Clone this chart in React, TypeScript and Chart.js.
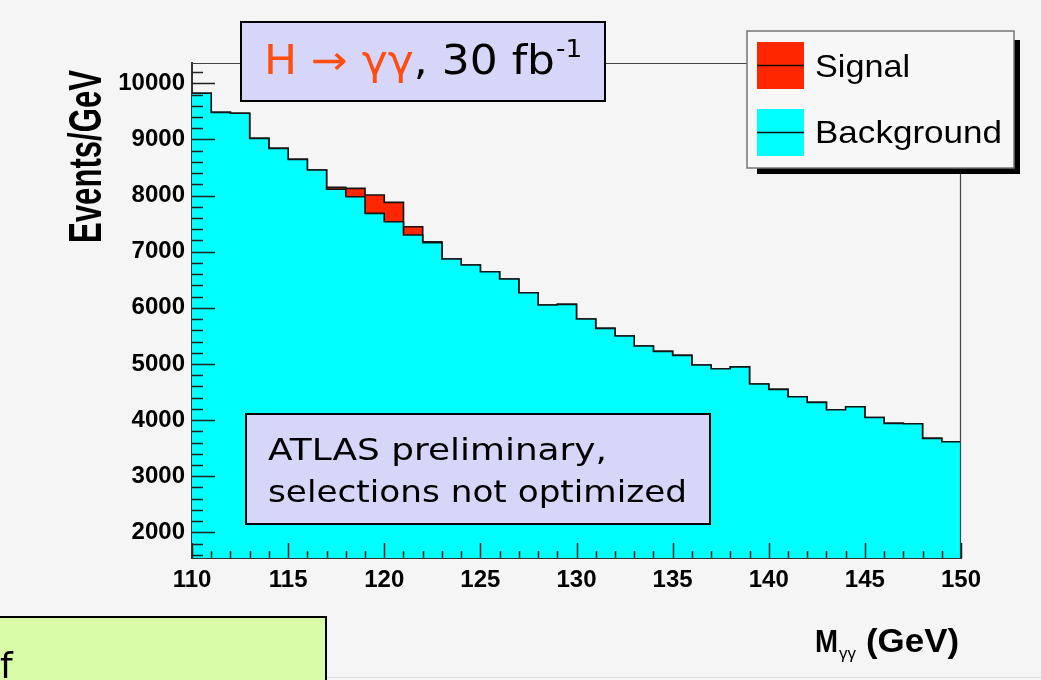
import React, { useEffect, useRef } from "react";
import { Chart, registerables } from "chart.js";

Chart.register(...registerables);

// ---- data ----
const binLow = [
  110, 111, 112, 113, 114, 115, 116, 117, 118, 119,
  120, 121, 122, 123, 124, 125, 126, 127, 128, 129,
  130, 131, 132, 133, 134, 135, 136, 137, 138, 139,
  140, 141, 142, 143, 144, 145, 146, 147, 148, 149,
];
const binHighEdge = 150;
const background = [
  9822, 9483, 9466, 9020, 8842, 8646, 8455, 8112, 7980, 7684,
  7534, 7297, 7160, 6870, 6763, 6644, 6513, 6269, 6050, 6063,
  5801, 5635, 5498, 5320, 5225, 5154, 4981, 4914, 4949, 4643,
  4548, 4416, 4317, 4185, 4238, 4046, 3943, 3935, 3675, 3615,
];
const signal = [
  0, 0, 0, 0, 0, 0, 0, 35, 149, 326,
  346, 148, 18, 0, 0, 0, 0, 0, 0, 0,
  0, 0, 0, 0, 0, 0, 0, 0, 0, 0,
  0, 0, 0, 0, 0, 0, 0, 0, 0, 0,
];
const xTickValues = [110, 115, 120, 125, 130, 135, 140, 145, 150];
const yTickValues = [2000, 3000, 4000, 5000, 6000, 7000, 8000, 9000, 10000];
const legendLabels = ["Signal", "Background"];
const yTitle = "Events/GeV";
const noteLines = ["ATLAS preliminary,", "selections not optimized"];

const CYAN = "#00ffff";
const RED = "#ff2600";
const LAVENDER = "#d6d6f9";
const ORANGE = "#ff4d12";
const PAGE = "#f5f5f5";
const SANS = "'Liberation Sans', Arial, sans-serif";
const HAND = "'DejaVu Sans', sans-serif";

function stepPoints(vals: number[]) {
  const pts = binLow.map((x, i) => ({ x, y: vals[i] }));
  pts.push({ x: binHighEdge, y: vals[vals.length - 1] });
  return pts;
}

function fitText(ctx: any, text: string, font: string, x: number, y: number, width: number) {
  ctx.save();
  ctx.font = font;
  const w = ctx.measureText(text).width;
  ctx.translate(x, y);
  ctx.scale(width / w, 1);
  ctx.fillText(text, 0, 0);
  ctx.restore();
}

const decorPlugin = {
  id: "decor",
  beforeDraw(chart: any) {
    const ctx = chart.ctx;
    ctx.save();
    ctx.fillStyle = PAGE;
    ctx.fillRect(0, 0, chart.width, chart.height);
    ctx.restore();
  },
  afterDatasetsDraw(chart: any) {
    const ctx = chart.ctx;
    const { left, right, top, bottom } = chart.chartArea;
    const xs = chart.scales.x;
    const ys = chart.scales.y;
    ctx.save();
    // frame top / right
    ctx.strokeStyle = "#444";
    ctx.lineWidth = 1.2;
    ctx.beginPath();
    ctx.moveTo(left, top + 0.5);
    ctx.lineTo(right, top + 0.5);
    ctx.moveTo(right - 0.5, top);
    ctx.lineTo(right - 0.5, bottom);
    ctx.stroke();
    // inner ticks on y
    ctx.strokeStyle = "#222";
    ctx.lineWidth = 1.5;
    ctx.beginPath();
    for (let v = 1600; v <= 10400; v += 200) {
      if (v < ys.min || v > ys.max) continue;
      const py = Math.round(ys.getPixelForValue(v)) + 0.5;
      const len = v % 1000 === 0 ? 23 : 11;
      ctx.moveTo(left, py);
      ctx.lineTo(left + len, py);
    }
    // inner ticks on x
    for (let m = 110; m <= 150; m += 1) {
      const px = Math.round(xs.getPixelForValue(m)) + 0.5;
      const len = m % 5 === 0 ? 15 : 7;
      ctx.moveTo(px, bottom);
      ctx.lineTo(px, bottom - len);
    }
    ctx.stroke();
    ctx.restore();
  },
  afterDraw(chart: any) {
    const ctx = chart.ctx;
    ctx.save();
    ctx.textBaseline = "alphabetic";

    // ---- y axis title (bold, condensed) ----
    ctx.save();
    ctx.translate(101, 243);
    ctx.rotate(-Math.PI / 2);
    ctx.fillStyle = "#000";
    fitText(ctx, yTitle, `bold 46px ${SANS}`, 0, 0, 173);
    ctx.restore();

    // ---- x axis title: M_γγ (GeV) ----
    ctx.fillStyle = "#000";
    fitText(ctx, "M", `bold 32px ${SANS}`, 815, 652, 23);
    ctx.font = `17px ${SANS}`;
    ctx.fillText("γγ", 839, 659);
    fitText(ctx, "(GeV)", `bold 33px ${SANS}`, 866, 652, 93);

    // ---- title box ----
    ctx.fillStyle = LAVENDER;
    ctx.fillRect(241, 22, 364, 79);
    ctx.strokeStyle = "#000";
    ctx.lineWidth = 2;
    ctx.strokeRect(241, 22, 364, 79);
    {
      ctx.save();
      ctx.font = `40px ${HAND}`;
      const parts = [
        { t: "H", c: ORANGE },
        { t: " → ", c: ORANGE },
        { t: "γγ", c: ORANGE },
        { t: ", 30 fb", c: "#000" },
      ];
      const total = parts.reduce((s, p) => s + ctx.measureText(p.t).width, 0);
      const sx = (555 - 264) / total;
      ctx.translate(264, 74);
      ctx.scale(sx, 1);
      let x = 0;
      for (const p of parts) {
        ctx.fillStyle = p.c;
        ctx.fillText(p.t, x, 0);
        x += ctx.measureText(p.t).width;
      }
      ctx.font = `24px ${HAND}`;
      ctx.fillStyle = "#000";
      ctx.fillText("-1", x + 1, -17);
      ctx.restore();
    }

    // ---- ATLAS note box ----
    ctx.fillStyle = LAVENDER;
    ctx.fillRect(246, 414, 464, 110);
    ctx.strokeStyle = "#000";
    ctx.lineWidth = 2;
    ctx.strokeRect(246, 414, 464, 110);
    ctx.fillStyle = "#000";
    fitText(ctx, noteLines[0], `30px ${HAND}`, 268, 460, 607 - 268);
    fitText(ctx, noteLines[1], `30px ${HAND}`, 268, 502, 687 - 268);

    // ---- legend ----
    ctx.fillStyle = "#000";
    ctx.fillRect(757, 40, 263, 134);
    ctx.fillStyle = "#f7f7f7";
    ctx.fillRect(747, 31, 267, 137);
    ctx.strokeStyle = "#777";
    ctx.lineWidth = 1.5;
    ctx.strokeRect(747, 31, 267, 137);
    const markers = [
      { c: RED, y: 42, lbl: legendLabels[0], by: 77, w: 95 },
      { c: CYAN, y: 109, lbl: legendLabels[1], by: 143, w: 187 },
    ];
    for (const m of markers) {
      ctx.fillStyle = m.c;
      ctx.fillRect(757, m.y, 47, 47);
      ctx.strokeStyle = "#111";
      ctx.lineWidth = 1.5;
      ctx.beginPath();
      ctx.moveTo(757, m.y + 23.5);
      ctx.lineTo(804, m.y + 23.5);
      ctx.stroke();
      ctx.fillStyle = "#000";
      fitText(ctx, m.lbl, `32px ${SANS}`, 815, m.by, m.w);
    }

    // ---- green box bottom-left (partially visible) ----
    ctx.fillStyle = "#d9fca9";
    ctx.fillRect(0, 617, 326, 70);
    ctx.strokeStyle = "#000";
    ctx.lineWidth = 2;
    ctx.strokeRect(-2, 617, 328, 70);
    ctx.fillStyle = "#000";
    ctx.font = `36px ${HAND}`;
    ctx.fillText("f", 0, 678);

    // faint bottom edge line
    ctx.strokeStyle = "#dcdcdc";
    ctx.lineWidth = 1;
    ctx.beginPath();
    ctx.moveTo(327, 677.5);
    ctx.lineTo(1041, 677.5);
    ctx.stroke();

    ctx.restore();
  },
};

export default function App() {
  const ref = useRef<HTMLCanvasElement | null>(null);
  useEffect(() => {
    if (!ref.current) return;
    const totalVals = background.map((b, i) => b + signal[i]);
    const chart = new Chart(ref.current, {
      type: "line",
      data: {
        datasets: [
          {
            label: legendLabels[1],
            data: stepPoints(background),
            stepped: true,
            borderColor: "#151515",
            borderWidth: 1.6,
            backgroundColor: CYAN,
            fill: "start",
            pointRadius: 0,
          },
          {
            label: legendLabels[0],
            data: stepPoints(totalVals),
            stepped: true,
            borderColor: "#151515",
            borderWidth: 1.6,
            backgroundColor: RED,
            fill: "-1",
            pointRadius: 0,
          },
        ],
      },
      options: {
        animation: false,
        responsive: false,
        devicePixelRatio: 1,
        layout: { padding: { left: 0, top: 63, right: 80, bottom: 0 } },
        plugins: {
          legend: { display: false },
          tooltip: { enabled: false },
          title: { display: false },
        },
        scales: {
          x: {
            type: "linear",
            min: 110,
            max: 150,
            grid: { display: false, drawTicks: false },
            border: { display: true, color: "#333", width: 2 },
            afterBuildTicks: (scale: any) => {
              scale.ticks = xTickValues.map((v) => ({ value: v }));
            },
            afterFit: (scale: any) => {
              scale.height = 122;
            },
            ticks: {
              padding: 8,
              color: "#000",
              font: { family: SANS, size: 24, weight: "bold" },
              callback: (v: any) => String(v),
            },
          },
          y: {
            type: "linear",
            min: 1544,
            max: 10362,
            grid: { display: false, drawTicks: false },
            border: { display: true, color: "#333", width: 2 },
            afterBuildTicks: (scale: any) => {
              scale.ticks = yTickValues.map((v) => ({ value: v }));
            },
            afterFit: (scale: any) => {
              scale.width = 192;
            },
            ticks: {
              padding: 7,
              color: "#000",
              font: { family: SANS, size: 24, weight: "bold" },
              callback: (v: any) => String(v),
            },
          },
        },
      },
      plugins: [decorPlugin],
    } as any);
    return () => chart.destroy();
  }, []);
  return (
    <div style={{ position: "fixed", left: 0, top: 0, width: 1041, height: 680, background: PAGE }}>
      <canvas ref={ref} width={1041} height={680} style={{ display: "block" }} />
    </div>
  );
}
